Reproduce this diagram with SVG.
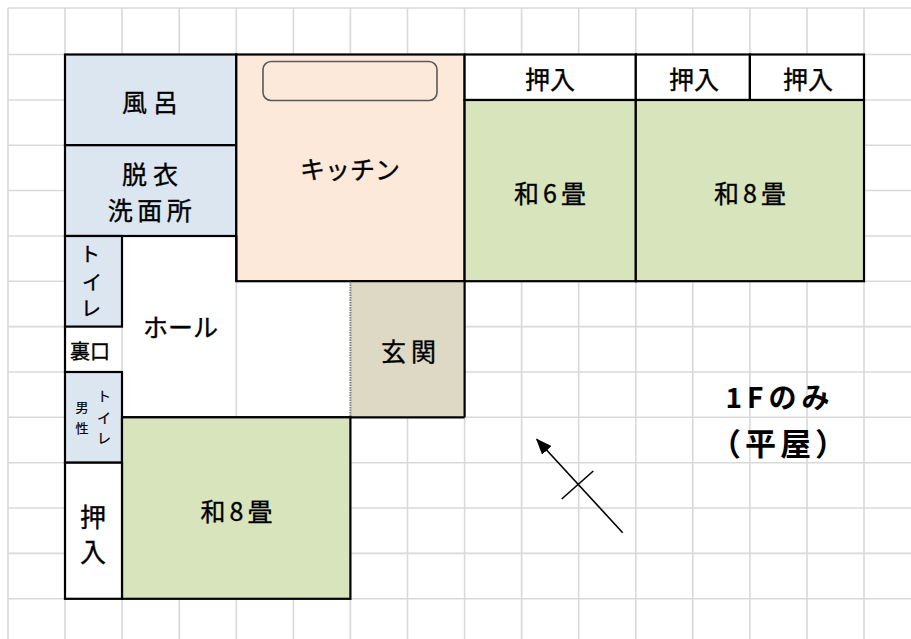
<svg xmlns="http://www.w3.org/2000/svg" width="911" height="639" viewBox="0 0 911 639">
<style>
.grid line{stroke:#d9d9d9;stroke-width:1.6}
.wall{stroke:#000;stroke-width:2.2}
.bath{fill:#dce6f1}
.kit{fill:#fde9d9}
.tat{fill:#d8e4bc}
.gen{fill:#ddd9c4}
.wht{fill:#fff}
.lbl{font-family:"Noto Sans CJK JP","Noto Sans CJK SC",sans-serif;font-size:25px;fill:#000;stroke:#000;stroke-width:0.35;text-anchor:middle;dominant-baseline:central}
.bold{font-weight:bold;font-size:28px;stroke-width:0}
</style>
<defs>
<marker id="ah" markerUnits="userSpaceOnUse" markerWidth="16" markerHeight="13" viewBox="0 0 16 13" refX="15" refY="6.5" orient="auto">
<path d="M0,0 L16,6.5 L0,13 z" fill="#000"/>
</marker>
</defs>
<rect x="0" y="0" width="911" height="639" fill="#fff"/>
<g class="grid" id="grid">
<line x1="8" y1="8" x2="8" y2="639"/>
<line x1="65" y1="8" x2="65" y2="639"/>
<line x1="122" y1="8" x2="122" y2="639"/>
<line x1="179.2" y1="8" x2="179.2" y2="639"/>
<line x1="236.3" y1="8" x2="236.3" y2="639"/>
<line x1="293.4" y1="8" x2="293.4" y2="639"/>
<line x1="350.4" y1="8" x2="350.4" y2="639"/>
<line x1="407.5" y1="8" x2="407.5" y2="639"/>
<line x1="464.6" y1="8" x2="464.6" y2="639"/>
<line x1="521.6" y1="8" x2="521.6" y2="639"/>
<line x1="578.7" y1="8" x2="578.7" y2="639"/>
<line x1="635.8" y1="8" x2="635.8" y2="639"/>
<line x1="692.8" y1="8" x2="692.8" y2="639"/>
<line x1="749.9" y1="8" x2="749.9" y2="639"/>
<line x1="807" y1="8" x2="807" y2="639"/>
<line x1="864" y1="8" x2="864" y2="639"/>
<line x1="8" y1="8" x2="911" y2="8"/>
<line x1="8" y1="54.5" x2="911" y2="54.5"/>
<line x1="8" y1="100" x2="911" y2="100"/>
<line x1="8" y1="145.2" x2="911" y2="145.2"/>
<line x1="8" y1="190.5" x2="911" y2="190.5"/>
<line x1="8" y1="236" x2="911" y2="236"/>
<line x1="8" y1="281.2" x2="911" y2="281.2"/>
<line x1="8" y1="326.6" x2="911" y2="326.6"/>
<line x1="8" y1="372" x2="911" y2="372"/>
<line x1="8" y1="417.3" x2="911" y2="417.3"/>
<line x1="8" y1="462.7" x2="911" y2="462.7"/>
<line x1="8" y1="508" x2="911" y2="508"/>
<line x1="8" y1="553.4" x2="911" y2="553.4"/>
<line x1="8" y1="598.8" x2="911" y2="598.8"/>
</g>

<g id="hall">
<polygon class="wht" points="122,236 236.3,236 236.3,281.2 350.4,281.2 350.4,417.3 122,417.3"/>
<line x1="236.3" y1="281.2" x2="236.3" y2="417.3" stroke="#d9d9d9" stroke-width="1.6"/>
<text class="lbl" x="180.5" y="326">ホール</text>
</g>
<g id="backdoor">
<rect class="wht" x="65" y="326.6" width="57" height="45.4"/>
<line x1="122" y1="326.6" x2="122" y2="372" stroke="#d9d9d9" stroke-width="1.6"/>
<line class="wall" x1="65" y1="326.6" x2="65" y2="372"/>
<text class="lbl" x="90" y="350" style="font-size:20px">裏口</text>
</g>

<g id="bath">
<rect class="bath wall" x="65" y="54.5" width="171.3" height="90.7"/>
<text class="lbl" x="153" y="101" letter-spacing="6">風呂</text>
</g>
<g id="dressing">
<rect class="bath wall" x="65" y="145.2" width="171.3" height="90.8"/>
<text class="lbl" x="153" y="172.5" letter-spacing="6">脱衣</text>
<text class="lbl" x="152" y="209" letter-spacing="4.5">洗面所</text>
</g>
<g id="kitchen">
<rect class="kit wall" x="236.3" y="54.5" width="228.3" height="226.7"/>
<rect x="263" y="61.5" width="174" height="39" rx="8" fill="none" stroke="#595959" stroke-width="1.6"/>
<text class="lbl" x="350" y="167.5">キッチン</text>
</g>
<g id="closet1">
<rect class="wht wall" x="464.6" y="54.5" width="171.2" height="45.5"/>
<text class="lbl" x="550" y="78">押入</text>
</g>
<g id="closet2">
<rect class="wht wall" x="635.8" y="54.5" width="114.1" height="45.5"/>
<text class="lbl" x="694" y="78">押入</text>
</g>
<g id="closet3">
<rect class="wht wall" x="749.9" y="54.5" width="114.1" height="45.5"/>
<text class="lbl" x="808" y="78">押入</text>
</g>
<g id="room6">
<rect class="tat wall" x="464.6" y="100" width="171.2" height="181.2"/>
<text class="lbl" x="552" y="192" letter-spacing="4">和6畳</text>
</g>
<g id="room8a">
<rect class="tat wall" x="635.8" y="100" width="228.2" height="181.2"/>
<text class="lbl" x="752" y="192" letter-spacing="4">和8畳</text>
</g>
<g id="toilet1">
<rect class="bath wall" x="65" y="236" width="57" height="90.6"/>
<text class="lbl" x="90" y="253" style="font-size:20px">ト</text>
<text class="lbl" x="92" y="281" style="font-size:20px">イ</text>
<text class="lbl" x="91" y="307" style="font-size:20px">レ</text>
</g>
<g id="toilet2">
<rect class="bath wall" x="65" y="372" width="57" height="90.7"/>
<text class="lbl" x="82" y="406.5" style="font-size:13px;stroke-width:0.2">男</text>
<text class="lbl" x="82" y="427.5" style="font-size:13px;stroke-width:0.2">性</text>
<text class="lbl" x="104" y="395" style="font-size:14px;stroke-width:0.2">ト</text>
<text class="lbl" x="104" y="417" style="font-size:14px;stroke-width:0.2">イ</text>
<text class="lbl" x="104" y="437" style="font-size:14px;stroke-width:0.2">レ</text>
</g>
<g id="entrance">
<rect class="gen" x="350.4" y="281.2" width="114.2" height="136.1"/>
<line class="wall" x1="350.4" y1="281.2" x2="464.6" y2="281.2"/>
<line class="wall" x1="464.6" y1="281.2" x2="464.6" y2="417.3"/>
<line class="wall" x1="122" y1="417.3" x2="464.6" y2="417.3"/>
<line x1="350.4" y1="282" x2="350.4" y2="416.5" stroke="#808080" stroke-width="2" stroke-dasharray="1.5 1"/>
<text class="lbl" x="411" y="350" letter-spacing="5">玄関</text>
</g>
<g id="room8b">
<rect class="tat wall" x="122" y="417.3" width="228.4" height="181.5"/>
<text class="lbl" x="238.5" y="510" letter-spacing="4">和8畳</text>
</g>
<g id="closet4">
<rect class="wht wall" x="65" y="462.7" width="57" height="136.1"/>
<text class="lbl" x="93" y="515" style="font-size:26px">押</text>
<text class="lbl" x="93" y="550" style="font-size:26px">入</text>
</g>
<g id="hallwalls">
<line class="wall" x1="236.3" y1="236" x2="236.3" y2="281.2"/>
</g>

<g id="note">
<text class="lbl bold" x="780" y="396" letter-spacing="5">1Fのみ</text>
<text class="lbl bold" x="780" y="441" letter-spacing="4" style="font-size:31px">（平屋）</text>
</g>
<g id="connectors">
<line x1="622.7" y1="532.7" x2="536.7" y2="439.3" stroke="#000" stroke-width="1.6" marker-end="url(#ah)"/>
<line x1="561.7" y1="499" x2="593.3" y2="471" stroke="#000" stroke-width="1.6"/>
</g>
</svg>
